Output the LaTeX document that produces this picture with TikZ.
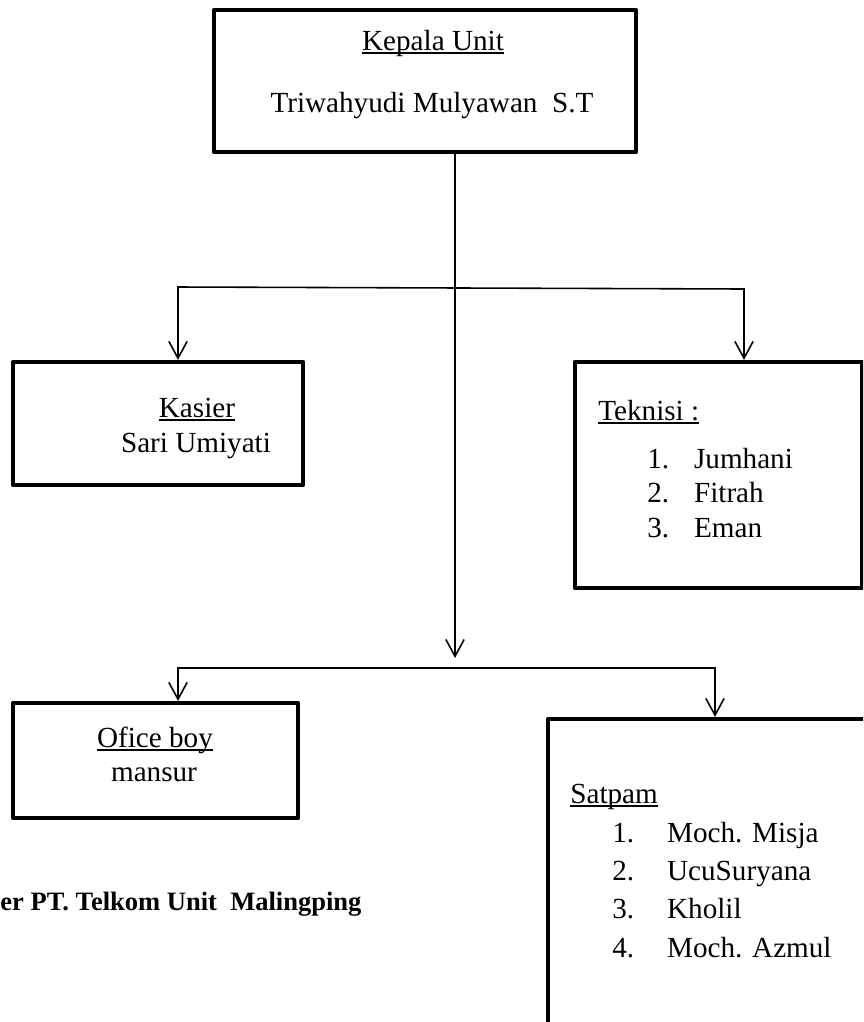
\documentclass[tikz,border=0pt]{standalone}
\usepackage{fontspec}
\setmainfont{Liberation Serif}
\usetikzlibrary{positioning,arrows.meta}
\def\pxl{0.02cm}
\newcommand{\uln}[1]{\setbox0=\hbox{#1}\rlap{\rule[-2.2pt]{\wd0}{0.9pt}}\box0}
\newcommand{\itm}[3]{\makebox[#1][l]{#2}#3}

\begin{document}
\begin{tikzpicture}[x=0.02cm, y=-0.02cm, >={Straight Barb[length=9.6pt,width=10.4pt]},
    box/.style = {draw, line width=2.4pt, line join=round, inner sep=0pt},
    txt/.style = {inner sep=0pt, anchor=base, font=\fontsize{16.6}{20}\selectfont},
    link/.style = {line width=0.9pt}]
    \useasboundingbox (0,0) rectangle (863,1022);
    \clip (0,0) rectangle (863,1022);

        % boxes
        \node[box, minimum width=422*\pxl, minimum height=142*\pxl] (kepala) at (425,81) {};
        \node[box, minimum width=290*\pxl, minimum height=123*\pxl] (kasier) at (158,423.5) {};
        \node[box, minimum width=287*\pxl, minimum height=226*\pxl] (teknisi) at (718.5,475) {};
        \node[box, minimum width=285*\pxl, minimum height=115*\pxl] (office) at (155.5,760.5) {};
        \node[box, minimum width=362*\pxl, minimum height=351*\pxl] (satpam) at (729,894.5) {};

        % texts
        \node[txt] (kepalaT) at (433,50) {\uln{Kepala Unit}};
        \node[txt] (kepalaN) at (432,112) {Triwahyudi Mulyawan\ \ S.T};

        \node[txt] (kasierT) at (197,417) {\uln{Kasier}};
        \node[txt] (kasierN) at (196,452) {Sari Umiyati};

        \node[txt, anchor=base west] (teknisiT) at (598,420) {\uln{Teknisi :}};
        \node[txt, anchor=base west] (t1) at (647,468) {\itm{26.6pt}{1.}{Jumhani}};
        \node[txt, anchor=base west] (t2) at (647,502) {\itm{26.6pt}{2.}{Fitrah}};
        \node[txt, anchor=base west] (t3) at (647,537) {\itm{26.6pt}{3.}{Eman}};

        \node[txt] (officeT) at (155,747) {\uln{Ofice boy}};
        \node[txt] (officeN) at (154,781) {mansur};

        \node[txt, anchor=base west] (satpamT) at (570,803) {\uln{Satpam}};
        \node[txt, anchor=base west] (s1) at (612,842) {\itm{31.2pt}{1.}{Moch. Misja}};
        \node[txt, anchor=base west] (s2) at (612,880) {\itm{31.2pt}{2.}{UcuSuryana}};
        \node[txt, anchor=base west] (s3) at (612,918) {\itm{31.2pt}{3.}{Kholil}};
        \node[txt, anchor=base west] (s4) at (612,957) {\itm{31.2pt}{4.}{Moch. Azmul}};

        \node[txt, anchor=base west, font=\fontsize{15.1}{18}\selectfont\bfseries] (caption) at (0,910) {er PT. Telkom Unit\ \ Malingping};

        % connectors
        \coordinate (trunk) at (455,658);
        \coordinate (b1l) at (178,287);
        \coordinate (b1r) at (744,289);
        \coordinate (b2l) at (178,668);
        \coordinate (b2r) at (715,668);

        \draw[link, ->] (kepala.south -| trunk) -- (trunk);
        \draw[link, <->] (b1l |- kasier.north) -- (b1l) -- (b1r) -- (b1r |- teknisi.north);
        \draw[link, <->] (b2l |- office.north) -- (b2l) -- (b2r) -- (b2r |- satpam.north);
\end{tikzpicture}
\end{document}
